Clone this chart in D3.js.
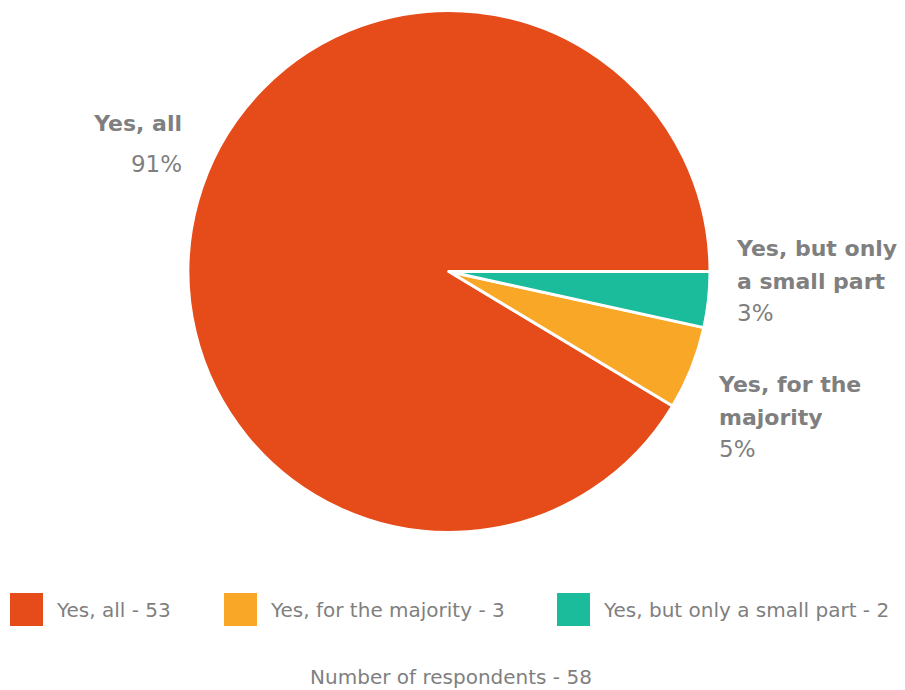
<!DOCTYPE html>
<html>
<head>
<meta charset="utf-8">
<script src="https://cdn.jsdelivr.net/npm/d3@7"></script>
<style>
  html, body { margin: 0; padding: 0; background: #fff; }
  svg { display: block; font-family: "DejaVu Sans", sans-serif; }
</style>
</head>
<body>
<svg id="chart" width="905" height="690"></svg>
<script>
// Survey answers and respondent counts
const categories = ["Yes, all", "Yes, for the majority", "Yes, but only a small part"];
const counts = [53, 3, 2];
const percentLabels = ["91%", "5%", "3%"];
const sliceLabelLines = [["Yes, all"], ["Yes, for the", "majority"], ["Yes, but only", "a small part"]];
const colors = ["#E64B1A", "#F8A726", "#1ABC9C"];
const totalRespondents = 58;

const svg = d3.select("#chart");
const textColor = "#7F7F7F";

const cx = 449, cy = 271.5, radius = 261;

// Slices run counter-clockwise from 3 o'clock
const pie = d3.pie()
  .value(d => d)
  .sort(null)
  .startAngle(Math.PI / 2)
  .endAngle(Math.PI / 2 - 2 * Math.PI);

const arc = d3.arc().innerRadius(0).outerRadius(radius);

const g = svg.append("g").attr("transform", `translate(${cx},${cy})`);
g.selectAll("path.slice")
  .data(pie(counts))
  .join("path")
  .attr("class", "slice")
  .attr("d", arc)
  .attr("fill", (d, i) => colors[i])
  .attr("stroke", "#fff")
  .attr("stroke-width", 3)
  .attr("stroke-linejoin", "round");

// Slice labels: bold name lines followed by the percentage
const labelPos = [
  { x: 182, y: 131, anchor: "end" },
  { x: 719, y: 392, anchor: "start" },
  { x: 737, y: 256, anchor: "start" }
];
const lineH = 33;
categories.forEach((c, i) => {
  const p = labelPos[i];
  const t = svg.append("text")
    .attr("text-anchor", p.anchor)
    .attr("fill", textColor);
  sliceLabelLines[i].forEach((line, j) => {
    t.append("tspan")
      .attr("x", p.x)
      .attr("y", p.y + j * lineH)
      .attr("font-weight", "bold")
      .attr("font-size", 22)
      .text(line);
  });
  t.append("tspan")
    .attr("x", p.x)
    .attr("y", p.y + (sliceLabelLines[i].length === 1 ? 41 : sliceLabelLines[i].length * lineH - 1))
    .attr("font-weight", "normal")
    .attr("font-size", 23)
    .text(percentLabels[i]);
});

// Legend
const legendX = [10, 224, 557];
const legend = svg.append("g");
categories.forEach((c, i) => {
  legend.append("rect")
    .attr("x", legendX[i]).attr("y", 593)
    .attr("width", 33).attr("height", 33)
    .attr("fill", colors[i]);
  legend.append("text")
    .attr("x", legendX[i] + 47).attr("y", 617)
    .attr("fill", textColor)
    .attr("font-size", 20)
    .text(`${c} - ${counts[i]}`);
});

svg.append("text")
  .attr("x", 451).attr("y", 684)
  .attr("text-anchor", "middle")
  .attr("fill", textColor)
  .attr("font-size", 20)
  .text(`Number of respondents - ${totalRespondents}`);
</script>
</body>
</html>
